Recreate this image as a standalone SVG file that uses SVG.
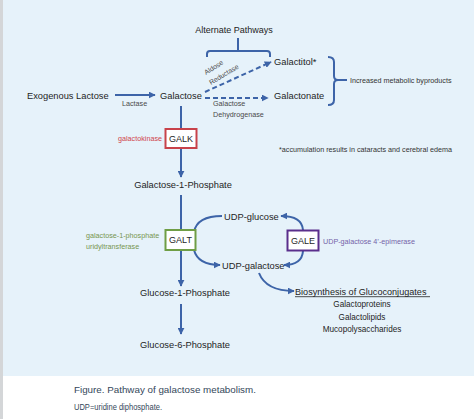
<svg xmlns="http://www.w3.org/2000/svg" width="474" height="419" viewBox="0 0 474 419">
<defs>
<marker id="ah" viewBox="0 0 10 10" refX="9" refY="5" markerWidth="7" markerHeight="7" markerUnits="userSpaceOnUse" orient="auto">
<path d="M0,0 L10,5 L0,10 Z" fill="#3d64a8"/>
</marker>
<style>
text{font-family:"Liberation Sans",Arial,sans-serif;fill:#1e1e1e}
.m{font-size:9.3px}
.s{font-size:7.2px;fill:#4a4a4a}
.c{stroke:#3d64a8;stroke-width:2;fill:none}
.d{stroke-dasharray:5,3}
.box{fill:#ffffff;stroke-width:2}
</style>
</defs>
<rect x="0" y="0" width="474" height="419" fill="#ffffff"/>
<rect x="3" y="0" width="471" height="376" fill="#e6f2fa"/>
<rect x="0" y="0" width="3" height="419" fill="#d4d6d8"/>

<g id="connectors">
<path class="c" d="M115,95 H155" marker-end="url(#ah)"/>
<path class="c d" d="M205,92 L271,62" marker-end="url(#ah)"/>
<path class="c d" d="M205,98 H268" marker-end="url(#ah)"/>
<path class="c" d="M207,57 V54 Q207,51 210,51 H267 Q270,51 270,54 V57 M238,51 V38"/>
<path class="c" d="M328,57 Q334,57 334,62 V76 Q334,80 338,80 H347 M338,80 Q334,80 334,84 V100 Q334,105 328,105"/>
<path class="c" d="M181,106 V129"/>
<path class="c" d="M181,148 V177" marker-end="url(#ah)"/>
<path class="c" d="M181,195 V230"/>
<path class="c" d="M181,250 V286" marker-end="url(#ah)"/>
<path class="c" d="M181,304 V334" marker-end="url(#ah)"/>
<path class="c" d="M194,232 Q197,216 222,216"/>
<path class="c" d="M194,250 Q198,265 220,265" marker-end="url(#ah)"/>
<path class="c" d="M303,230 Q302,216 281,216" marker-end="url(#ah)"/>
<path class="c" d="M303,251 Q302,265 284,265" marker-end="url(#ah)"/>
<path class="c" d="M259,273 Q266,291 294,291" marker-end="url(#ah)"/>
</g>

<g id="alternate-pathways"><text class="m" x="234" y="33" text-anchor="middle" style="font-size:9px">Alternate Pathways</text></g>
<g id="galactitol"><text class="m" x="274" y="65">Galactitol*</text></g>
<g id="galactonate"><text class="m" x="274" y="99">Galactonate</text></g>
<g id="byproducts"><text class="s" x="350" y="82.5" style="fill:#333">Increased metabolic byproducts</text></g>
<g id="exogenous-lactose"><text class="m" x="27" y="99">Exogenous Lactose</text></g>
<g id="lactase"><text class="s" x="122" y="106">Lactase</text></g>
<g id="galactose"><text class="m" x="160" y="99">Galactose</text></g>
<g id="aldose-reductase">
<text class="s" style="font-size:6.9px" transform="translate(206,75) rotate(-32)">Aldose</text>
<text class="s" style="font-size:6.9px" transform="translate(211,85) rotate(-31)">Reductase</text>
</g>
<g id="galactose-dehydrogenase">
<text class="s" x="213" y="105.5">Galactose</text>
<text class="s" x="213" y="116.5">Dehydrogenase</text>
</g>
<g id="galk">
<rect class="box" x="165.5" y="129" width="31" height="19" stroke="#c8424a"/>
<text x="181" y="141.7" text-anchor="middle" font-size="9px">GALK</text>
<text class="s" x="162" y="141" text-anchor="end" style="fill:#d0454c">galactokinase</text>
</g>
<g id="accumulation-note"><text class="s" x="279" y="151.5" style="fill:#333">*accumulation results in cataracts and cerebral edema</text></g>
<g id="galactose-1-phosphate"><text class="m" x="183" y="188" text-anchor="middle">Galactose-1-Phosphate</text></g>
<g id="udp-glucose"><text class="m" x="224" y="219.5">UDP-glucose</text></g>
<g id="galt">
<rect class="box" x="165.5" y="230" width="30" height="20" stroke="#6f9e45"/>
<text x="180.5" y="243.2" text-anchor="middle" font-size="9px">GALT</text>
<text class="s" x="86" y="237.5" style="fill:#77954f">galactose-1-phosphate</text>
<text class="s" x="86" y="248.5" style="fill:#77954f">uridyltransferase</text>
</g>
<g id="gale">
<rect class="box" x="287.5" y="230.5" width="31" height="20" stroke="#5a2f8c"/>
<text x="303" y="243.7" text-anchor="middle" font-size="9px">GALE</text>
<text class="s" x="323" y="243.5" style="fill:#7563a8">UDP-galactose 4’-epimerase</text>
</g>
<g id="udp-galactose"><text class="m" x="222" y="268.5">UDP-galactose</text></g>
<g id="biosynthesis">
<text class="m" x="295" y="294.5" style="font-size:9.1px">Biosynthesis of Glucoconjugates</text>
<line x1="295" y1="296.7" x2="430" y2="296.7" stroke="#222" stroke-width="0.8"/>
<text x="362" y="307.3" text-anchor="middle" font-size="8.2px">Galactoproteins</text>
<text x="362" y="319.8" text-anchor="middle" font-size="8.2px">Galactolipids</text>
<text x="362" y="332.3" text-anchor="middle" font-size="8.2px">Mucopolysaccharides</text>
</g>
<g id="glucose-1-phosphate"><text class="m" x="185" y="296" text-anchor="middle">Glucose-1-Phosphate</text></g>
<g id="glucose-6-phosphate"><text class="m" x="185" y="348" text-anchor="middle">Glucose-6-Phosphate</text></g>
<g id="caption">
<text x="74" y="392.5" font-size="9.8px" style="fill:#34475a">Figure. Pathway of galactose metabolism.</text>
<text x="74" y="410" font-size="8.2px" textLength="88" lengthAdjust="spacingAndGlyphs" style="fill:#34475a">UDP=uridine diphosphate.</text>
</g>
</svg>
